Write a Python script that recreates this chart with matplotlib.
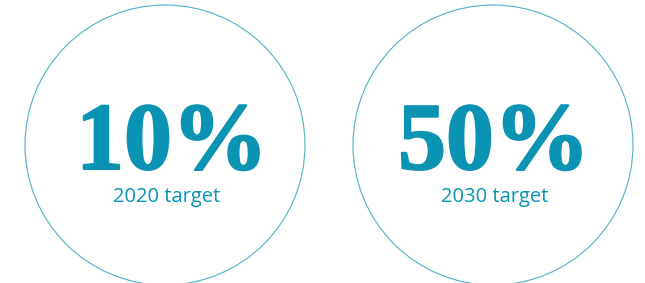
import matplotlib
matplotlib.use("Agg")
import matplotlib.pyplot as plt
import matplotlib.patheffects as pe
from matplotlib.patches import Circle

targets = [10, 50]
labels = ["2020 target", "2030 target"]

teal = "#0a93b3"
ring = "#4fb0c6"

fig = plt.figure(figsize=(6.45, 2.83), dpi=100)
ax = fig.add_axes([0, 0, 1, 1])
ax.set_xlim(0, 645)
ax.set_ylim(283, 0)
ax.axis("off")

centers = [165, 493]
nudge = [7, 1]   # big numbers sit a bit off centre in the original
for cx, dx, val, lab in zip(centers, nudge, targets, labels):
    ax.add_patch(Circle((cx, 145), 140, fill=False, ec=ring, lw=0.8))
    ax.text(cx + dx, 169, f"{val}%", ha="center", va="baseline",
            fontsize=69, fontweight="bold", family="Liberation Serif", color=teal,
            path_effects=[pe.withStroke(linewidth=1.5, foreground=teal)])
    ax.text(cx + 2, 202, lab, ha="center", va="baseline",
            fontsize=14.5, family="Open Sans", color=teal)

fig.savefig("out.png", dpi=100)
